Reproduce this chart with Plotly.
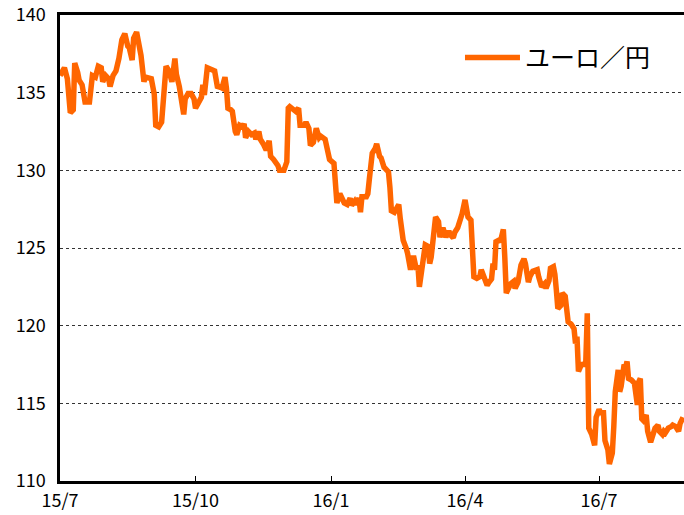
import plotly.graph_objects as go

dates = [
    "2015-07-01","2015-07-04","2015-07-06","2015-07-08","2015-07-10","2015-07-11","2015-07-13","2015-07-14",
    "2015-07-16","2015-07-18","2015-07-21","2015-07-22","2015-07-23","2015-07-25","2015-07-27","2015-07-29",
    "2015-07-30","2015-08-01","2015-08-03","2015-08-04","2015-08-06","2015-08-08","2015-08-10","2015-08-12",
    "2015-08-14","2015-08-16","2015-08-17","2015-08-19","2015-08-20","2015-08-22","2015-08-24","2015-08-25",
    "2015-08-27","2015-08-28","2015-09-01","2015-09-02","2015-09-03","2015-09-04","2015-09-06","2015-09-08",
    "2015-09-10","2015-09-11","2015-09-13","2015-09-15","2015-09-17","2015-09-18","2015-09-20","2015-09-21",
    "2015-09-23","2015-09-24","2015-09-26","2015-09-28","2015-09-30","2015-10-01","2015-10-03","2015-10-05",
    "2015-10-06","2015-10-07","2015-10-09","2015-10-11","2015-10-13","2015-10-14","2015-10-16","2015-10-17",
    "2015-10-19","2015-10-21","2015-10-22","2015-10-23","2015-10-25","2015-10-26","2015-10-28","2015-10-29",
    "2015-10-31","2015-11-02","2015-11-03","2015-11-04","2015-11-06","2015-11-08","2015-11-10","2015-11-11",
    "2015-11-13","2015-11-14","2015-11-16","2015-11-18","2015-11-20","2015-11-21","2015-11-23","2015-11-26",
    "2015-11-27","2015-11-30","2015-12-02","2015-12-03","2015-12-04","2015-12-06","2015-12-08","2015-12-10",
    "2015-12-11","2015-12-14","2015-12-15","2015-12-17","2015-12-18","2015-12-20","2015-12-22","2015-12-24",
    "2015-12-25","2015-12-28","2015-12-29","2015-12-31","2016-01-03","2016-01-04","2016-01-05","2016-01-07",
    "2016-01-09","2016-01-10","2016-01-12","2016-01-14","2016-01-15","2016-01-17","2016-01-18","2016-01-20",
    "2016-01-21","2016-01-22","2016-01-25","2016-01-26","2016-01-27","2016-01-29","2016-01-31","2016-02-01",
    "2016-02-03","2016-02-04","2016-02-06","2016-02-08","2016-02-09","2016-02-10","2016-02-11","2016-02-13",
    "2016-02-15","2016-02-16","2016-02-17","2016-02-19","2016-02-21","2016-02-22","2016-02-24","2016-02-25",
    "2016-02-26","2016-02-28","2016-02-29","2016-03-01","2016-03-02","2016-03-04","2016-03-05","2016-03-07",
    "2016-03-08","2016-03-09","2016-03-11","2016-03-12","2016-03-14","2016-03-15","2016-03-17","2016-03-18",
    "2016-03-19","2016-03-21","2016-03-22","2016-03-24","2016-03-25","2016-03-27","2016-03-29","2016-03-30",
    "2016-04-01","2016-04-02","2016-04-03","2016-04-05","2016-04-06","2016-04-07","2016-04-09","2016-04-11",
    "2016-04-12","2016-04-14","2016-04-16","2016-04-17","2016-04-19","2016-04-20","2016-04-21","2016-04-22",
    "2016-04-24","2016-04-25","2016-04-27","2016-04-28","2016-04-29","2016-04-30","2016-05-02","2016-05-04",
    "2016-05-05","2016-05-07","2016-05-09","2016-05-11","2016-05-12","2016-05-14","2016-05-15","2016-05-17",
    "2016-05-20","2016-05-21","2016-05-23","2016-05-25","2016-05-26","2016-05-28","2016-05-29","2016-05-31",
    "2016-06-01","2016-06-02","2016-06-03","2016-06-05","2016-06-06","2016-06-08","2016-06-09","2016-06-10",
    "2016-06-12","2016-06-14","2016-06-15","2016-06-16","2016-06-17","2016-06-18","2016-06-19","2016-06-21",
    "2016-06-22","2016-06-23","2016-06-24","2016-06-26","2016-06-28","2016-06-29","2016-07-01","2016-07-02",
    "2016-07-04","2016-07-05","2016-07-07","2016-07-08","2016-07-10","2016-07-11","2016-07-12","2016-07-14",
    "2016-07-15","2016-07-16","2016-07-18","2016-07-19","2016-07-20","2016-07-21","2016-07-23","2016-07-25",
    "2016-07-27","2016-07-28","2016-07-29","2016-07-30","2016-07-31","2016-08-02","2016-08-03","2016-08-05",
    "2016-08-06","2016-08-08","2016-08-10","2016-08-11","2016-08-13","2016-08-14","2016-08-15","2016-08-17",
    "2016-08-19","2016-08-20","2016-08-22","2016-08-24","2016-08-25","2016-08-27",
]

eur_jpy = [
    136.1,136.6,135.9,133.7,133.9,136.9,136.3,135.8,
    135.5,134.4,134.4,135.5,136.1,136.0,136.7,136.6,
    135.7,136.1,135.9,135.4,136.1,136.4,137.2,138.4,
    138.8,138.0,137.9,137.1,138.5,138.9,138.1,137.4,
    135.7,136.0,135.9,135.1,134.9,132.9,132.8,133.1,
    135.3,136.7,136.4,135.7,137.2,136.2,135.4,134.7,
    133.6,134.6,134.95,134.95,134.6,134.0,134.4,134.7,
    135.5,134.85,136.6,136.5,136.4,136.4,135.3,135.4,
    135.3,136.0,135.3,134.0,133.9,133.8,132.5,132.3,
    132.9,132.8,133.0,132.1,132.5,132.3,132.4,132.0,
    132.5,132.0,131.7,131.3,131.9,130.9,130.7,130.3,
    130.0,130.0,130.55,134.0,134.1,133.9,133.8,134.0,
    132.9,132.9,133.1,132.7,131.6,131.8,132.7,132.1,
    132.2,132.0,131.6,130.7,130.45,129.4,127.9,128.5,
    128.0,127.9,127.8,128.2,127.75,128.0,127.8,128.2,
    127.3,128.3,128.3,128.5,129.4,131.1,131.4,131.7,
    130.9,130.8,130.2,129.9,129.9,128.9,127.4,127.3,
    127.65,127.8,126.9,125.5,125.0,124.65,123.6,124.3,
    124.5,123.6,123.9,122.5,123.15,124.1,125.2,125.1,
    124.0,124.4,126.6,127.0,126.7,125.7,126.3,126.1,
    125.7,126.1,125.85,125.65,126.0,126.3,126.8,127.2,
    128.1,127.1,127.0,126.8,125.5,123.15,123.05,123.15,
    123.6,123.15,122.6,122.75,123.0,124.0,123.6,125.4,
    125.5,125.4,126.2,124.4,122.1,122.3,122.7,122.85,
    122.4,122.8,123.9,124.3,124.0,122.8,123.15,123.5,
    123.6,123.15,122.5,122.7,122.4,122.9,123.7,123.8,
    123.3,122.3,121.1,121.3,122.1,121.9,120.9,120.25,
    120.1,119.8,118.85,119.3,117.05,117.4,117.5,117.5,
    117.7,120.8,113.4,113.0,112.3,114.1,114.6,114.4,
    114.4,112.6,112.0,111.1,111.8,113.5,115.75,117.15,
    115.75,116.1,117.5,117.3,117.7,116.6,116.5,116.3,
    114.9,116.4,116.6,114.0,113.9,114.25,113.2,112.5,
    112.85,113.4,113.6,113.2,113.0,113.2,113.1,113.4,
    113.5,113.6,113.5,113.2,113.7,114.1,
]

tick_dates = ["2015-07-01", "2015-10-01", "2016-01-01", "2016-04-01", "2016-07-01"]
tick_labels = ["15/7", "15/10", "16/1", "16/4", "16/7"]
y_ticks = [110, 115, 120, 125, 130, 135, 140]
series_name = "ユーロ／円"

FONT = "Noto Sans CJK JP"

fig = go.Figure()
fig.add_trace(go.Scatter(
    x=dates, y=eur_jpy, mode="lines", name=series_name,
    line=dict(color="#FF6600", width=5.5),
    showlegend=True,
))

fig.update_layout(
    width=684, height=515,
    margin=dict(l=60, r=0, t=15, b=34, autoexpand=False),
    paper_bgcolor="white", plot_bgcolor="white",
    font=dict(family=FONT, color="black", size=18),
    showlegend=True,
    legend=dict(
        x=0.641, y=0.908, xanchor="left", yanchor="middle",
        bgcolor="rgba(0,0,0,0)", borderwidth=0,
        font=dict(family=FONT, size=25, color="black"),
        itemwidth=55,
    ),
    xaxis=dict(
        type="date", automargin=False,
        range=["2015-07-01", "2016-08-27 16:00"],
        tickmode="array", tickvals=tick_dates, ticktext=tick_labels,
        ticks="inside", ticklen=5, tickwidth=1, tickcolor="black",
        showline=True, linecolor="black", linewidth=2.5, mirror=True,
        showgrid=False, zeroline=False,
        tickfont=dict(family=FONT, size=18, color="black"),
        ticklabelstandoff=2,
    ),
    yaxis=dict(
        range=[110, 140], automargin=False,
        tickmode="array", tickvals=y_ticks,
        ticks="", showline=True, linecolor="black", linewidth=2.5,
        showgrid=True, gridcolor="#333333", gridwidth=1, griddash="dot",
        zeroline=False,
        tickfont=dict(family=FONT, size=18, color="black"),
        ticklabelstandoff=8,
    ),
)

fig.write_html(
    "out.html",
    config={"displayModeBar": False},
    post_script="document.body.style.margin='0';document.body.style.overflow='hidden';",
)
